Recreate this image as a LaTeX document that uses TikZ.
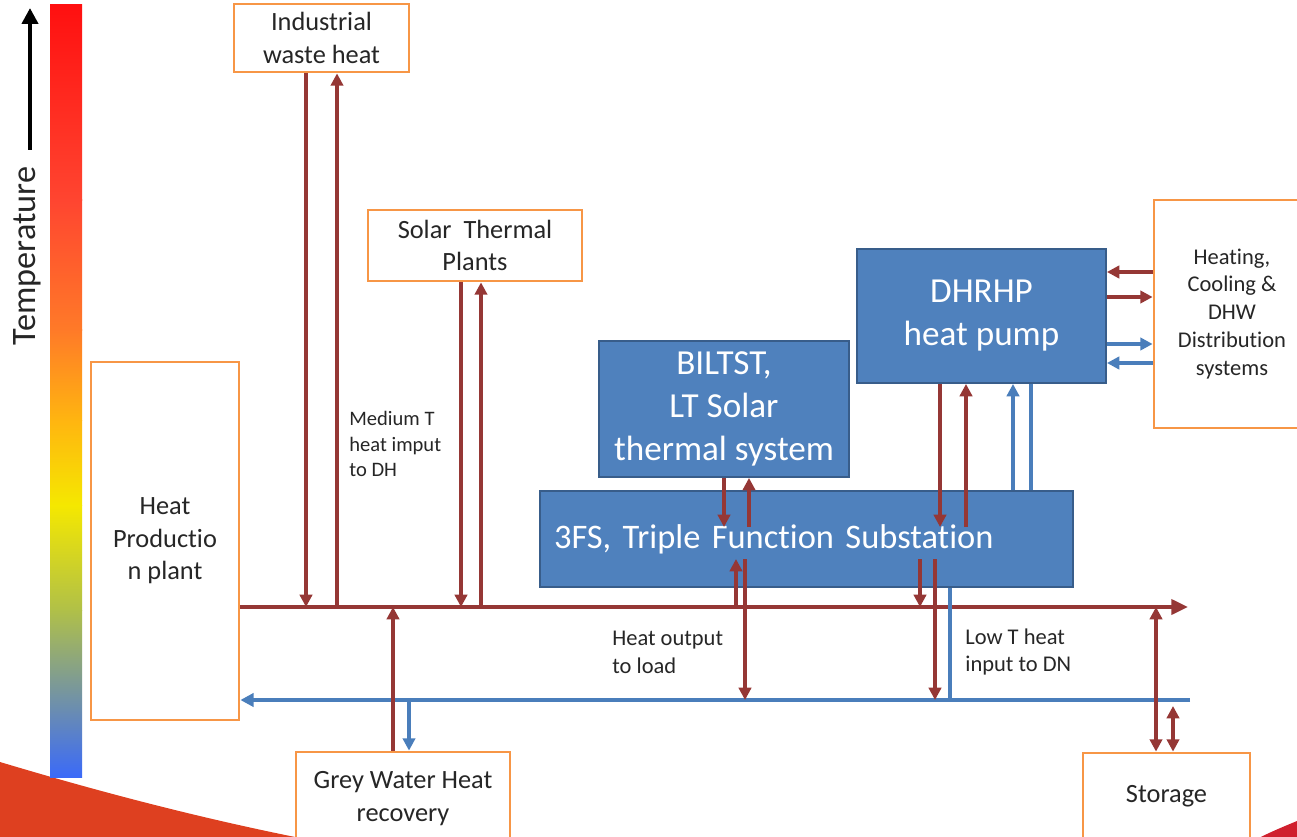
\documentclass[tikz,border=0pt]{standalone}
\usepackage{fontspec}
\setmainfont{Carlito}[Ligatures=NoCommon]
\usetikzlibrary{arrows.meta,calc}

\definecolor{pipered}{HTML}{953735}
\definecolor{pipeblue}{HTML}{4A7EBB}
\definecolor{boxblue}{HTML}{4F81BD}
\definecolor{boxedge}{HTML}{385D8A}
\definecolor{srcorange}{HTML}{F79646}
\definecolor{txtgrey}{HTML}{262626}

\begin{document}
\begin{tikzpicture}[x=0.02cm,y=-0.02cm,>={Triangle[length=7pt,width=7pt]}]
	\tikzstyle{srcbox}=[draw=srcorange,line width=1.6pt,fill=white,align=center,text=txtgrey,font=\fontsize{15}{18.5}\selectfont]
	\tikzstyle{unitbox}=[draw=boxedge,line width=1.1pt,fill=boxblue,align=center,text=white,font=\fontsize{20}{24.5}\selectfont]
	\tikzstyle{hot}=[pipered,line width=2pt]
	\tikzstyle{cold}=[pipeblue,line width=1.8pt]
	\tikzstyle{note}=[align=left,text=txtgrey,inner sep=0pt,font=\fontsize{12.8}{15.8}\selectfont]

	\useasboundingbox (0,0) rectangle (1297,837);
	\clip (0,0) rectangle (1297,837);

	% slide background
	\fill[color={rgb,255:red,222;green,64;blue,32}] (0,762) .. controls (100,792) and (200,818) .. (300,838) -- (300,840) -- (0,840) -- cycle;
	\fill[color={rgb,255:red,208;green,32;blue,46}] (1255,840) .. controls (1270,832) and (1285,826) .. (1297,821) -- (1297,840) -- cycle;

	% temperature scale
	\shade[top color={rgb,255:red,255;green,16;blue,16},bottom color={rgb,255:red,255;green,69;blue,48}] (50,5) rectangle (82,200.5);
	\shade[top color={rgb,255:red,255;green,69;blue,48},bottom color={rgb,255:red,255;green,122;blue,40}] (50,200) rectangle (82,330.5);
	\shade[top color={rgb,255:red,255;green,122;blue,40},bottom color={rgb,255:red,255;green,181;blue,16}] (50,330) rectangle (82,420.5);
	\shade[top color={rgb,255:red,255;green,181;blue,16},bottom color={rgb,255:red,245;green,232;blue,0}] (50,420) rectangle (82,505.5);
	\shade[top color={rgb,255:red,245;green,232;blue,0},bottom color={rgb,255:red,176;green,192;blue,72}] (50,505) rectangle (82,610.5);
	\shade[top color={rgb,255:red,176;green,192;blue,72},bottom color={rgb,255:red,59;green,106;blue,248}] (50,610) rectangle (82,777);
	\draw[line width=2.4pt,-{Triangle[length=9pt,width=9pt]}] (30,150) -- (30,8);
	\node[rotate=90,text=txtgrey,font=\fontsize{19.5}{24}\selectfont] (templabel) at (27,256) {Temperature};

	% sources and loads
	\node[srcbox,minimum width=2.96cm,minimum height=7.16cm] (plant) at (165,541) {Heat\\Productio\\n plant};
	\node[srcbox,minimum width=3.5cm,minimum height=1.36cm] (waste) at (321.5,38) {Industrial\\waste heat};
	\node[srcbox,minimum width=4.28cm,minimum height=1.42cm] (solar) at (475,245.5) {Solar\ \ Thermal\\Plants};
	\node[srcbox,minimum width=3.12cm,minimum height=4.56cm,font=\fontsize{12.8}{15.9}\selectfont] (hvac) at (1232,314) {Heating,\\Cooling \&\\DHW\\Distribution\\systems};
	\node[srcbox,minimum width=4.28cm,minimum height=1.86cm] (grey) at (403,798.5) {Grey Water Heat\\recovery};
	\node[srcbox,minimum width=3.34cm,minimum height=1.74cm] (storage) at (1166.5,796.5) {Storage};

	% building units
	\node[unitbox,minimum width=5cm,minimum height=2.72cm] (biltst) at (724,409) {BILTST,\\LT Solar\\thermal system};
	\node[unitbox,minimum width=4.98cm,minimum height=2.68cm] (dhrhp) at (981.5,316) {DHRHP\\heat pump};
	\node[unitbox,minimum height=1.92cm,text width=10.1cm,inner xsep=0.28cm,align=left,font=\fontsize{19.6}{24}\selectfont] (tfs) at (806.5,539) {3FS, Triple Function Substation};

	% network pipes
	\coordinate (supend) at (1188,607);
	\coordinate (retend) at (1190,700);
	\draw[hot,line width=2.2pt,-{Triangle[length=9.5pt,width=8.5pt]}] (plant.east |- supend) -- (supend);
	\draw[cold,line width=2pt,-{Triangle[length=7.5pt,width=7.5pt]}] (retend) -- (plant.east |- retend);

	% medium T sources
	\draw[hot,->] (306,0 |- waste.south) -- (306,0 |- supend);
	\draw[hot,->] (337,0 |- supend) -- (337,0 |- waste.south);
	\draw[hot,->] (461,0 |- solar.south) -- (461,0 |- supend);
	\draw[hot,->] (481,0 |- supend) -- (481,0 |- solar.south);
	\draw[hot,->] (393,0 |- grey.north) -- (393,0 |- supend);
	\draw[cold,->] (409,0 |- retend) -- (409,0 |- grey.north);

	% units to substation
	\coordinate (tfsin) at (0,527);
	\draw[hot,->] (724,0 |- biltst.south) -- (724,0 |- tfsin);
	\draw[hot,->] (749,0 |- tfsin) -- (749,0 |- biltst.south);
	\draw[hot,->] (940,0 |- dhrhp.south) -- (940,0 |- tfsin);
	\draw[hot,->] (966,0 |- tfsin) -- (966,0 |- dhrhp.south);
	\draw[cold,->] (1013,0 |- tfs.north) -- (1013,0 |- dhrhp.south);
	\draw[cold] (1031,0 |- dhrhp.south) -- (1031,0 |- tfs.north);

	% substation to network
	\coordinate (tfsout) at (0,559);
	\draw[hot,->] (736,0 |- supend) -- (736,0 |- tfsout);
	\draw[hot,->] (745,0 |- tfsout) -- (745,0 |- retend);
	\draw[hot,->] (920,0 |- tfsout) -- (920,0 |- supend);
	\draw[hot,->] (935,0 |- tfsout) -- (935,0 |- retend);
	\draw[cold] (950,0 |- tfs.south) -- (950,0 |- retend);

	% storage
	\draw[hot,<->] (1156,0 |- supend) -- (1156,0 |- storage.north);
	\draw[hot,<->] (1173,706) -- (1173,0 |- storage.north);

	% heat pump to distribution
	\draw[hot,->] (hvac.west |- 0,272) -- (dhrhp.east |- 0,272);
	\draw[hot,->] (dhrhp.east |- 0,297) -- (hvac.west |- 0,297);
	\draw[cold,->] (dhrhp.east |- 0,344) -- (hvac.west |- 0,344);
	\draw[cold,->] (hvac.west |- 0,363) -- (dhrhp.east |- 0,363);

	% labels
	\node[note,font=\fontsize{11.7}{14.7}\selectfont,anchor=west] (mediumT) at (349,444) {Medium T\\heat imput\\to DH};
	\node[note,anchor=west] (loadout) at (612,652) {Heat output\\to load};
	\node[note,anchor=west] (lowT) at (965,652) {Low T heat\\input to DN};
\end{tikzpicture}
\end{document}
